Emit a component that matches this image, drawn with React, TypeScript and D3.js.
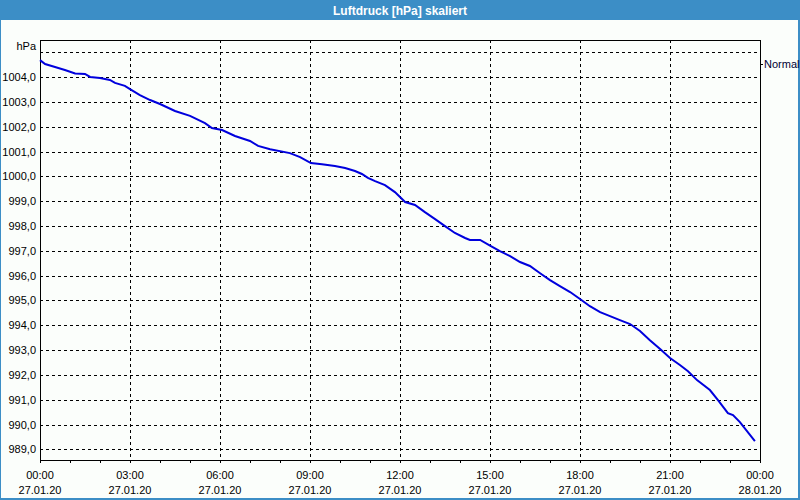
import React from "react";
import * as d3 from "d3";

const hours: number[] = [0, 0.17, 0.5, 0.83, 1.17, 1.5, 1.67, 2, 2.33, 2.5, 2.83, 3, 3.33, 3.67, 4, 4.5, 5, 5.5, 5.73, 6.07, 6.5, 7, 7.27, 7.67, 8.33, 8.67, 9.03, 9.4, 9.83, 10.17, 10.5, 10.73, 10.93, 11.17, 11.5, 11.83, 12, 12.17, 12.5, 12.83, 13.17, 13.5, 13.83, 14.17, 14.33, 14.67, 15.03, 15.33, 15.67, 16, 16.33, 16.67, 17, 17.33, 17.67, 18, 18.33, 18.67, 19, 19.33, 19.67, 20, 20.33, 20.67, 21, 21.33, 21.6, 21.9, 22.33, 22.6, 22.93, 23.1, 23.33, 23.83];
const pressure: number[] = [1004.69, 1004.53, 1004.41, 1004.29, 1004.15, 1004.13, 1004.01, 1003.97, 1003.89, 1003.77, 1003.65, 1003.52, 1003.28, 1003.08, 1002.92, 1002.64, 1002.44, 1002.15, 1001.95, 1001.87, 1001.63, 1001.43, 1001.23, 1001.1, 1000.94, 1000.78, 1000.54, 1000.49, 1000.42, 1000.34, 1000.22, 1000.1, 999.94, 999.81, 999.65, 999.37, 999.17, 998.97, 998.85, 998.56, 998.28, 998.0, 997.72, 997.52, 997.44, 997.44, 997.19, 996.99, 996.79, 996.55, 996.39, 996.1, 995.82, 995.58, 995.34, 995.06, 994.77, 994.53, 994.37, 994.21, 994.05, 993.77, 993.4, 993.04, 992.68, 992.4, 992.15, 991.79, 991.39, 990.98, 990.46, 990.38, 990.1, 989.33];

const yTicks: number[] = [989, 990, 991, 992, 993, 994, 995, 996, 997, 998, 999, 1000, 1001, 1002, 1003, 1004, 1005];
const xTickHours: number[] = [0, 3, 6, 9, 12, 15, 18, 21, 24];
const xTimeLabels: string[] = ["00:00", "03:00", "06:00", "09:00", "12:00", "15:00", "18:00", "21:00", "00:00"];
const xDateLabels: string[] = ["27.01.20", "27.01.20", "27.01.20", "27.01.20", "27.01.20", "27.01.20", "27.01.20", "27.01.20", "28.01.20"];
const minorHours: number[] = d3.range(0, 25);

const W = 800, H = 500;
const L = 40, R = 760, T = 40, B = 460;
const FONT = "Liberation Sans, Arial, sans-serif";

export default function App() {
  const x = d3.scaleLinear().domain([0, 24]).range([L, R]);
  const y = d3.scaleLinear().domain([988.57, 1005.5]).range([B, T]);
  const line = d3.line<number>().x((_, i) => x(hours[i])).y((d) => y(d));
  const path = line(pressure) || "";
  const fmt = (v: number) => v.toFixed(1).replace(".", ",");

  return (
    <svg width={W} height={H} style={{ position: "absolute", left: 0, top: 0 }} fontFamily={FONT}>
      <rect x={0} y={0} width={W} height={H} fill="#3c8ec6" />
      <rect x={1} y={20} width={W - 3} height={H - 22} fill="#fbfefb" />
      <text x={W / 2} y={14.5} textAnchor="middle" fill="#ffffff" fontWeight="bold" fontSize={12}>
        Luftdruck [hPa] skaliert
      </text>
      {/* horizontal grid */}
      {yTicks.map((v) => (
        <line key={"h" + v} x1={L} x2={R} y1={Math.round(y(v)) + 0.5} y2={Math.round(y(v)) + 0.5} stroke="#000" strokeDasharray="3,3" strokeWidth={1} />
      ))}
      {/* vertical grid */}
      {xTickHours.slice(1, -1).map((h) => (
        <line key={"v" + h} x1={x(h) + 0.5} x2={x(h) + 0.5} y1={T} y2={B} stroke="#000" strokeDasharray="3,3" strokeWidth={1} />
      ))}
      {/* minor ticks */}
      {minorHours.map((h) => (
        <line key={"m" + h} x1={x(h) + 0.5} x2={x(h) + 0.5} y1={B} y2={B + 3} stroke="#000" />
      ))}
      {/* frame */}
      <rect x={L + 0.5} y={T + 0.5} width={R - L} height={B - T} fill="none" stroke="#000" strokeWidth={1} />
      {/* y labels */}
      {yTicks.filter((v) => v < 1005).map((v) => (
        <text key={"yl" + v} x={36} y={y(v) + 4} textAnchor="end" fontSize={11} fill="#000">
          {fmt(v)}
        </text>
      ))}
      <text x={36} y={50} textAnchor="end" fontSize={11} fill="#000">hPa</text>
      {/* x labels */}
      {xTickHours.map((h, i) => (
        <g key={"xl" + h}>
          <text x={x(h)} y={479} textAnchor="middle" fontSize={11} fill="#000">{xTimeLabels[i]}</text>
          <text x={x(h)} y={494} textAnchor="middle" fontSize={11} fill="#000">{xDateLabels[i]}</text>
        </g>
      ))}
      {/* legend */}
      <line x1={R} x2={R + 3} y1={64.5} y2={64.5} stroke="#000" />
      <text x={764} y={68} fontSize={11} fill="#000033">Normal</text>
      {/* data line */}
      <path d={path} fill="none" stroke="#0000dd" strokeWidth={2} />
    </svg>
  );
}
